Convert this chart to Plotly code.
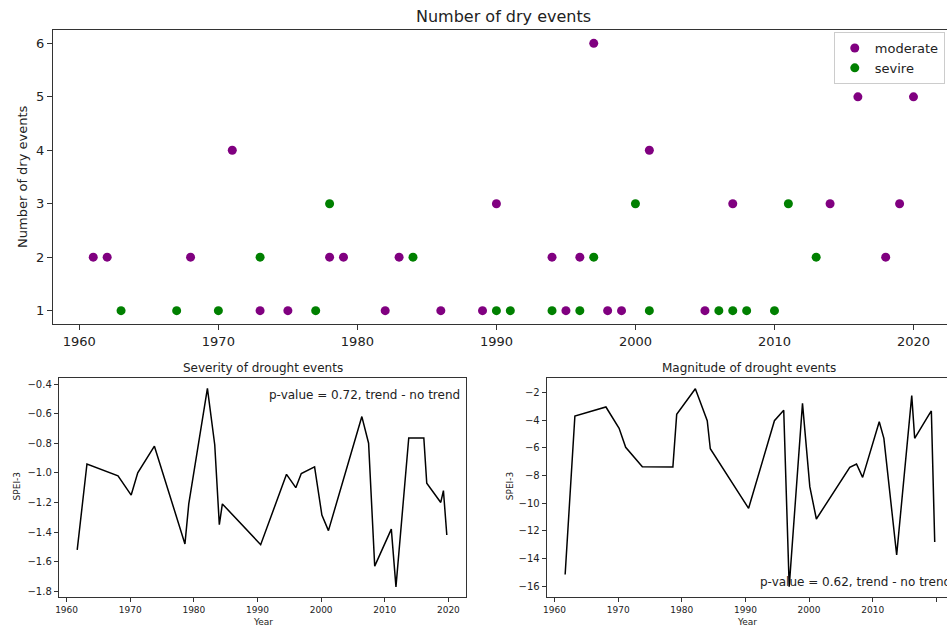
import plotly.graph_objects as go

# ---- dry-event counts per year ----
moderate_years = [1961, 1962, 1968, 1971, 1973, 1975, 1978, 1979, 1982, 1983, 1986, 1989,
                  1990, 1994, 1995, 1996, 1997, 1998, 1999, 2001, 2005, 2007, 2014, 2016,
                  2018, 2019, 2020]
moderate_counts = [2, 2, 2, 4, 1, 1, 2, 2, 1, 2, 1, 1,
                   3, 2, 1, 2, 6, 1, 1, 4, 1, 3, 3, 5,
                   2, 3, 5]
severe_years = [1963, 1967, 1970, 1973, 1977, 1978, 1984, 1990, 1991, 1994, 1996, 1997,
                2000, 2001, 2006, 2007, 2008, 2010, 2011, 2013]
severe_counts = [1, 1, 1, 2, 1, 3, 2, 1, 1, 1, 1, 2,
                 3, 1, 1, 1, 1, 1, 3, 2]

# ---- drought events: time (decimal year), severity and magnitude (SPEI-3) ----
event_time = [1961.67, 1963.20, 1968.08, 1970.15, 1971.18, 1973.80, 1978.60, 1979.20,
              1982.13, 1983.28, 1984.00, 1984.48, 1990.50, 1994.56, 1996.02, 1996.88,
              1998.97, 2000.12, 2001.15, 2006.40, 2007.46, 2008.42, 2011.03, 2011.76,
              2013.77, 2016.14, 2016.60, 2018.80, 2019.22, 2019.75]
severity = [-1.52, -0.94, -1.02, -1.15, -1.00, -0.82, -1.48, -1.21,
            -0.43, -0.81, -1.35, -1.21, -1.485, -1.01, -1.10, -1.005,
            -0.96, -1.285, -1.39, -0.62, -0.80, -1.63, -1.38, -1.77,
            -0.765, -0.765, -1.07, -1.20, -1.12, -1.42]
magnitude = [-15.14, -3.71, -3.06, -4.60, -5.97, -7.37, -7.39, -3.59,
             -1.74, -3.23, -4.05, -6.07, -10.37, -4.05, -3.30, -16.03,
             -2.80, -8.81, -11.14, -7.41, -7.17, -8.14, -4.12, -5.32,
             -13.74, -2.24, -5.32, -3.65, -3.35, -12.80]

severity_note = "p-value = 0.72, trend - no trend"
magnitude_note = "p-value = 0.62, trend - no trend"

decade_ticks = [1960, 1970, 1980, 1990, 2000, 2010, 2020]
count_ticks = [1, 2, 3, 4, 5, 6]
severity_ticks = [-0.4, -0.6, -0.8, -1.0, -1.2, -1.4, -1.6, -1.8]
magnitude_ticks = [-2, -4, -6, -8, -10, -12, -14, -16]

W, H = 947, 626
FONT = "DejaVu Sans"
AX = "#333333"


def px(x):
    return x / W


def py(y):
    return 1 - y / H


fig = go.Figure()

fig.add_trace(go.Scatter(x=moderate_years, y=moderate_counts, mode="markers", name="moderate",
                         marker=dict(color="#800080", size=9), xaxis="x", yaxis="y"))
fig.add_trace(go.Scatter(x=severe_years, y=severe_counts, mode="markers", name="sevire",
                         marker=dict(color="#008000", size=9), xaxis="x", yaxis="y"))
fig.add_trace(go.Scatter(x=event_time, y=severity, mode="lines", showlegend=False,
                         line=dict(color="black", width=1.5), xaxis="x2", yaxis="y2"))
fig.add_trace(go.Scatter(x=event_time, y=magnitude, mode="lines", showlegend=False,
                         line=dict(color="black", width=1.5), xaxis="x3", yaxis="y3"))

common = dict(showgrid=False, zeroline=False, showline=True, linecolor=AX, linewidth=1,
              ticks="outside", tickcolor=AX, tickwidth=1)

top_tick_font = dict(family=FONT, size=13, color="#222")
small_x_font = dict(family=FONT, size=9, color="#222")
small_y_font = dict(family=FONT, size=10, color="#222")

fig.update_layout(
    width=W, height=H,
    margin=dict(l=0, r=0, t=0, b=0),
    paper_bgcolor="white", plot_bgcolor="white",
    font=dict(family=FONT, color="#222"),
    xaxis=dict(domain=[px(49), 1.0], range=[1958.09, 2022.41], tickvals=decade_ticks,
               ticklen=5, mirror=True, tickfont=top_tick_font, anchor="y", **common),
    yaxis=dict(domain=[py(324), py(30)], range=[0.75, 6.25], tickvals=count_ticks,
               ticklen=5, mirror=False, tickfont=top_tick_font, anchor="x", **common),
    xaxis2=dict(domain=[px(55), px(464.3)], range=[1958.77, 2022.82], tickvals=decade_ticks,
                ticklen=4, mirror=True, tickfont=small_x_font, anchor="y2", **common),
    yaxis2=dict(domain=[py(597.3), py(378.3)], range=[-1.8405, -0.3615], tickvals=severity_ticks,
                tickformat=".1f", ticklen=4, mirror=True, tickfont=small_y_font,
                anchor="x2", **common),
    xaxis3=dict(domain=[px(545), 1.0], range=[1958.77, 2021.68], tickvals=decade_ticks,
                ticklen=4, mirror=True, tickfont=small_x_font, anchor="y3", **common),
    yaxis3=dict(domain=[py(597.3), py(378.3)], range=[-16.79, -0.99], tickvals=magnitude_ticks,
                ticklen=4, mirror=False, tickfont=small_y_font, anchor="x3", **common),
    legend=dict(x=px(833.3), y=py(32), xanchor="left", yanchor="top",
                bordercolor="#cccccc", borderwidth=1, bgcolor="rgba(255,255,255,0.8)",
                font=dict(family=FONT, size=13, color="#222"), tracegroupgap=0,
                entrywidth=90, entrywidthmode="pixels"),
)

annotations = [
    dict(text="Number of dry events", x=px(501.7), y=py(16), font=dict(size=16)),
    dict(text="Number of dry events", x=px(18), y=py(177), font=dict(size=13), textangle=-90),
    dict(text="Severity of drought events", x=px(259.7), y=py(368), font=dict(size=12)),
    dict(text="Magnitude of drought events", x=px(748.5), y=py(368), font=dict(size=12)),
    dict(text="SPEI-3", x=px(13.5), y=py(486), font=dict(size=9), textangle=-90),
    dict(text="SPEI-3", x=px(507.7), y=py(486.7), font=dict(size=9), textangle=-90),
    dict(text="Year", x=px(259.7), y=py(621.5), font=dict(size=9)),
    dict(text="Year", x=px(746), y=py(621.5), font=dict(size=9)),
    dict(text=severity_note, x=px(459.5), y=py(395), xanchor="right", font=dict(size=12)),
    dict(text=magnitude_note, x=px(756.7), y=py(582.3), xanchor="left", font=dict(size=12)),
]
for a in annotations:
    a.setdefault("xanchor", "center")
    a.update(xref="paper", yref="paper", yanchor="middle", showarrow=False)
    a["font"].update(family=FONT, color="#222")
fig.update_layout(annotations=annotations)

fig.write_html("out.html")
